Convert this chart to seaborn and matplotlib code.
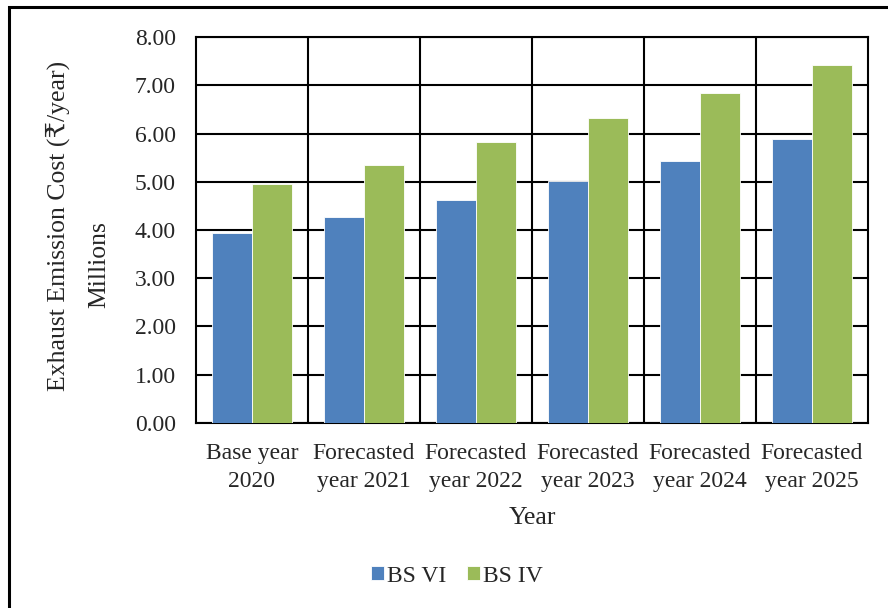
import pandas as pd
import matplotlib.pyplot as plt
import seaborn as sns
from matplotlib.patches import Rectangle

# values (millions of rupees per year)
years = ['Base year\n2020', 'Forecasted\nyear 2021', 'Forecasted\nyear 2022',
         'Forecasted\nyear 2023', 'Forecasted\nyear 2024', 'Forecasted\nyear 2025']
bs_vi = [3.94, 4.27, 4.62, 5.02, 5.43, 5.89]
bs_iv = [4.95, 5.35, 5.82, 6.32, 6.84, 7.42]
y_ticks = [0, 1, 2, 3, 4, 5, 6, 7, 8]

df = pd.DataFrame({
    'Year': years * 2,
    'Cost': bs_vi + bs_iv,
    'Standard': ['BS VI'] * len(years) + ['BS IV'] * len(years),
})

sns.set_theme(style='white')
plt.rcParams['font.family'] = ['Liberation Serif', 'DejaVu Serif', 'DejaVu Sans']

fig = plt.figure(figsize=(8.88, 6.08), dpi=100)
ax = fig.add_axes([0.2207, 0.3043, 0.7568, 0.6348])

sns.barplot(data=df, x='Year', y='Cost', hue='Standard',
            palette={'BS VI': '#4F81BD', 'BS IV': '#9BBB59'},
            width=0.714, edgecolor='white', linewidth=0.6,
            saturation=1, ax=ax, zorder=3)

ax.set_ylim(0, 8)
ax.set_xlim(-0.5, len(years) - 0.5)
ax.set_yticks(y_ticks)
ax.set_yticklabels([f'{v:.2f}' for v in y_ticks], fontsize=17)
ax.tick_params(axis='x', labelsize=17, length=0, pad=14.5)
ax.tick_params(axis='y', length=0, pad=14.5)
for lab in ax.get_xticklabels():
    lab.set_linespacing(1.4)

# grid: horizontal at every unit, vertical between categories
ax.set_xticks([i + 0.5 for i in range(len(years) - 1)], minor=True)
ax.grid(axis='y', which='major', color='black', linewidth=1.5, zorder=0)
ax.grid(axis='x', which='minor', color='black', linewidth=1.5, zorder=0)
ax.grid(axis='x', which='major', visible=False)
ax.set_axisbelow(True)
for s in ax.spines.values():
    s.set_color('black')
    s.set_linewidth(1.5)

ax.set_xlabel('Year', fontsize=18.5, labelpad=11)
ax.set_ylabel('')
fig.text(58 / 888, 1 - 226 / 608, 'Exhaust Emission Cost (₹/year)', rotation=90,
         fontsize=18.5, ha='center', va='center')
fig.text(99 / 888, 1 - 265 / 608, 'Millions', rotation=90,
         fontsize=18.5, ha='center', va='center')

ax.legend(loc='center', bbox_to_anchor=(457 / 888, 1 - 576 / 608), bbox_transform=fig.transFigure,
          ncol=2, frameon=False, fontsize=17, handlelength=0.55, handleheight=0.55,
          handletextpad=0.15, columnspacing=0.85)

# outer frame around the chart area
fig.patches.append(Rectangle((9 / 888, -0.05), 1.0, 1 - 7 / 608 + 0.05,
                             transform=fig.transFigure, fill=False,
                             edgecolor='black', linewidth=2.2))

fig.savefig('out.png', dpi=100)
